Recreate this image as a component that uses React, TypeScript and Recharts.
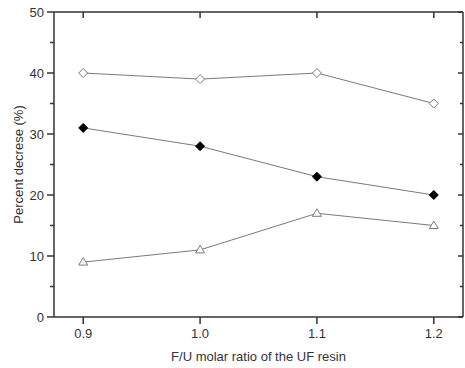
import { LineChart, Line, XAxis, YAxis } from "recharts";

const ratios = [0.9, 1.0, 1.1, 1.2];
const openDiamond = [40, 39, 40, 35];
const filledDiamond = [31, 28, 23, 20];
const openTriangle = [9, 11, 17, 15];

const xTicks = [0.9, 1.0, 1.1, 1.2];
const yTicks = [0, 5, 10, 15, 20, 25, 30, 35, 40, 45, 50];

const data = ratios.map((r, i) => ({
  ratio: r,
  open: openDiamond[i],
  filled: filledDiamond[i],
  tri: openTriangle[i],
}));

const AXIS = "#333";
const TEXT = "#333";
const LINE = "#7a7a7a";
const FONT = "Arial, 'Liberation Sans', sans-serif";

const LeftTick = (props: any) => {
  const { x, y, payload } = props;
  const major = payload.value % 10 === 0;
  return (
    <g>
      <line x1={x} y1={y} x2={x - (major ? 7 : 4)} y2={y} stroke={AXIS} strokeWidth={1.5} />
      {major && (
        <text x={x - 10} y={y} dy={4.5} textAnchor="end" fontSize={13} fill={TEXT} fontFamily={FONT}>
          {payload.value}
        </text>
      )}
    </g>
  );
};

const RightTick = (props: any) => {
  const { x, y, payload } = props;
  const major = payload.value % 10 === 0;
  return <line x1={x} y1={y} x2={x - (major ? 5 : 3)} y2={y} stroke={AXIS} strokeWidth={1.5} />;
};

const BottomTick = (props: any) => {
  const { x, y, payload } = props;
  return (
    <g>
      <line x1={x} y1={y} x2={x} y2={y + 7} stroke={AXIS} strokeWidth={1.5} />
      <text x={x} y={y + 21} textAnchor="middle" fontSize={13} fill={TEXT} fontFamily={FONT}>
        {Number(payload.value).toFixed(1)}
      </text>
    </g>
  );
};

const TopTick = (props: any) => {
  const { x, y } = props;
  return <line x1={x} y1={y} x2={x} y2={y + 6} stroke={AXIS} strokeWidth={1.5} />;
};

const Diamond = (fill: string, stroke: string) => (props: any) => {
  const { cx, cy, index } = props;
  const s = 4.5;
  return (
    <path
      key={index}
      d={`M${cx},${cy - s}L${cx + s},${cy}L${cx},${cy + s}L${cx - s},${cy}Z`}
      fill={fill}
      stroke={stroke}
      strokeWidth={1}
    />
  );
};

const Triangle = (props: any) => {
  const { cx, cy, index } = props;
  const w = 4.5;
  return (
    <path
      key={index}
      d={`M${cx},${cy - 4.5}L${cx + w},${cy + 3}L${cx - w},${cy + 3}Z`}
      fill="#fff"
      stroke={LINE}
      strokeWidth={1}
    />
  );
};

export default function App() {
  return (
    <div style={{ position: "absolute", left: 0, top: 0, background: "#fff" }}>
      <LineChart
        width={465}
        height={368}
        data={data}
        margin={{ top: 12, right: 2, left: 0, bottom: 0 }}
        style={{ fontFamily: FONT }}
      >
        <XAxis
          dataKey="ratio"
          type="number"
          domain={[0.875, 1.225]}
          ticks={xTicks}
          interval={0}
          height={51}
          axisLine={{ stroke: AXIS, strokeWidth: 1.5 }}
          tickLine={false}
          tickSize={0}
          tickMargin={0}
          tick={<BottomTick />}
          label={{
            value: "F/U molar ratio of the UF resin",
            position: "insideBottom",
            offset: 7,
            fill: TEXT,
            fontSize: 13,
          }}
        />
        <XAxis
          xAxisId="top"
          dataKey="ratio"
          type="number"
          orientation="top"
          mirror
          domain={[0.875, 1.225]}
          ticks={xTicks}
          interval={0}
          height={20}
          axisLine={{ stroke: AXIS, strokeWidth: 1.5 }}
          tickLine={false}
          tickSize={0}
          tickMargin={0}
          tick={<TopTick />}
        />
        <YAxis
          type="number"
          domain={[0, 50]}
          ticks={yTicks}
          interval={0}
          width={54}
          axisLine={{ stroke: AXIS, strokeWidth: 1.5 }}
          tickLine={false}
          tickSize={0}
          tickMargin={0}
          tick={<LeftTick />}
          label={{
            value: "Percent decrese (%)",
            angle: -90,
            position: "insideLeft",
            offset: 18,
            fill: TEXT,
            fontSize: 13,
            style: { textAnchor: "middle" },
          }}
        />
        <YAxis
          yAxisId="right"
          type="number"
          orientation="right"
          mirror
          domain={[0, 50]}
          ticks={yTicks}
          interval={0}
          width={20}
          axisLine={{ stroke: AXIS, strokeWidth: 1.5 }}
          tickLine={false}
          tickSize={0}
          tickMargin={0}
          tick={<RightTick />}
        />
        <Line
          dataKey="open"
          stroke={LINE}
          strokeWidth={1}
          dot={Diamond("#fff", LINE)}
          activeDot={false}
          isAnimationActive={false}
        />
        <Line
          dataKey="filled"
          stroke={LINE}
          strokeWidth={1}
          dot={Diamond("#000", "#000")}
          activeDot={false}
          isAnimationActive={false}
        />
        <Line
          xAxisId="top"
          yAxisId="right"
          dataKey="tri"
          stroke={LINE}
          strokeWidth={1}
          dot={Triangle}
          activeDot={false}
          isAnimationActive={false}
        />
      </LineChart>
    </div>
  );
}
